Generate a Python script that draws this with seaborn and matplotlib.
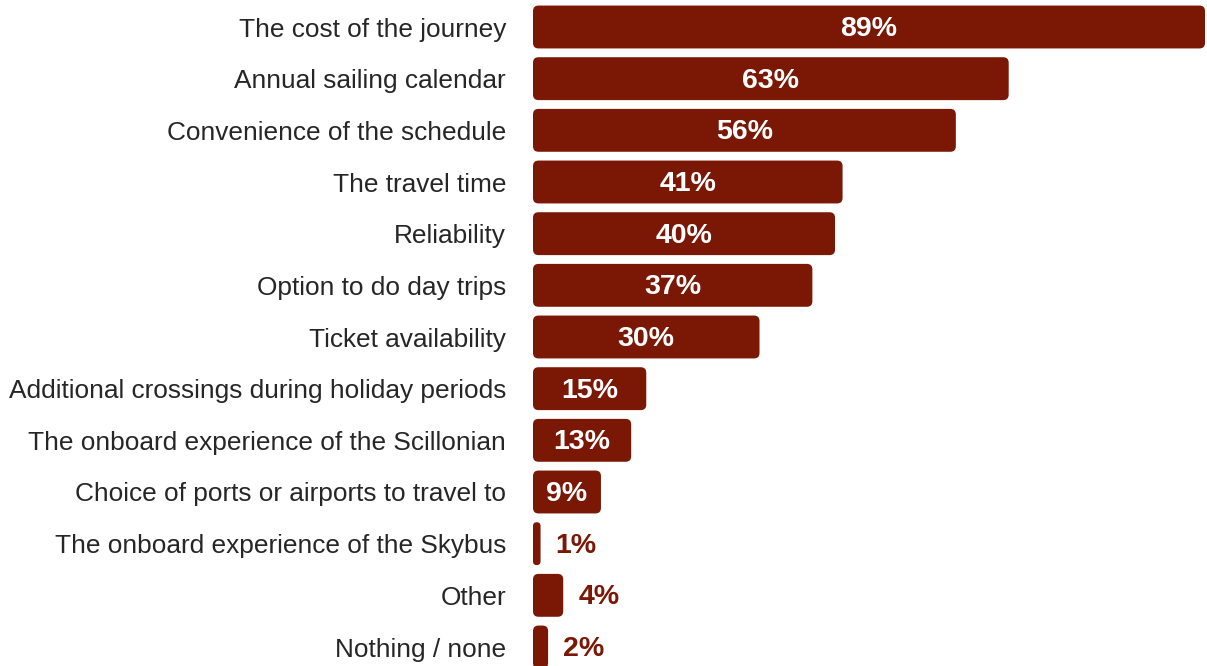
import matplotlib
matplotlib.use("Agg")
import matplotlib.pyplot as plt
from matplotlib.patches import FancyBboxPatch
import seaborn as sns
import pandas as pd

categories = [
    "The cost of the journey",
    "Annual sailing calendar",
    "Convenience of the schedule",
    "The travel time",
    "Reliability",
    "Option to do day trips",
    "Ticket availability",
    "Additional crossings during holiday periods",
    "The onboard experience of the Scillonian",
    "Choice of ports or airports to travel to",
    "The onboard experience of the Skybus",
    "Other",
    "Nothing / none",
]
values = [89, 63, 56, 41, 40, 37, 30, 15, 13, 9, 1, 4, 2]

BAR_COLOR = "#7A1705"
W, H = 1207, 666
DPI = 100

sns.set_theme(style="white")
plt.rcParams["font.family"] = ["Liberation Sans", "DejaVu Sans"]

df = pd.DataFrame({"category": categories, "value": values})

fig = plt.figure(figsize=(W / DPI, H / DPI), dpi=DPI)
ax = fig.add_axes([533 / W, 0, (W - 533) / W, 1])

sns.barplot(data=df, y="category", x="value", orient="h", color=BAR_COLOR,
            width=0.83, saturation=1, ax=ax)

x_max = 89 * (W - 533) / 672
ax.set_xlim(0, x_max)
pitch = (647 - 27) / 12
ax.set_ylim(12 + (H - 647) / pitch, -27 / pitch)

# pixel scales used for rounded corners
px_per_x = (W - 533) / x_max
px_per_y = pitch
radius_px = 5.5

for patch in list(ax.patches):
    x0, y0 = patch.get_x(), patch.get_y()
    w, h = patch.get_width(), patch.get_height()
    patch.remove()
    r_px = min(radius_px, w * px_per_x / 2)
    r = r_px / px_per_x
    rounded = FancyBboxPatch(
        (x0, y0), w, h,
        boxstyle=f"round,pad=0,rounding_size={r}",
        mutation_aspect=px_per_x / px_per_y,
        facecolor=BAR_COLOR, edgecolor="none", linewidth=0,
    )
    ax.add_patch(rounded)

for i, v in enumerate(values):
    if v >= 9:
        ax.annotate(f"{v}%", xy=(v / 2, i), xytext=(0, -2), textcoords="offset pixels",
                    ha="center", va="center", color="white",
                    fontsize=20.5, fontweight="bold")
    else:
        ax.annotate(f"{v}%", xy=(v, i), xytext=(15, -2), textcoords="offset pixels",
                    ha="left", va="center", color=BAR_COLOR,
                    fontsize=20.5, fontweight="bold")

ax.set_xlabel("")
ax.set_ylabel("")
ax.set_xticks([])
ax.tick_params(axis="y", length=0, pad=19.4, labelsize=18.9, labelcolor="#262626")
for lbl in ax.get_yticklabels():
    lbl.set_color("#262626")
    lbl.set_y(lbl.get_position()[1])
sns.despine(ax=ax, left=True, bottom=True, top=True, right=True)

fig.savefig("out.png", dpi=DPI, facecolor="white")
